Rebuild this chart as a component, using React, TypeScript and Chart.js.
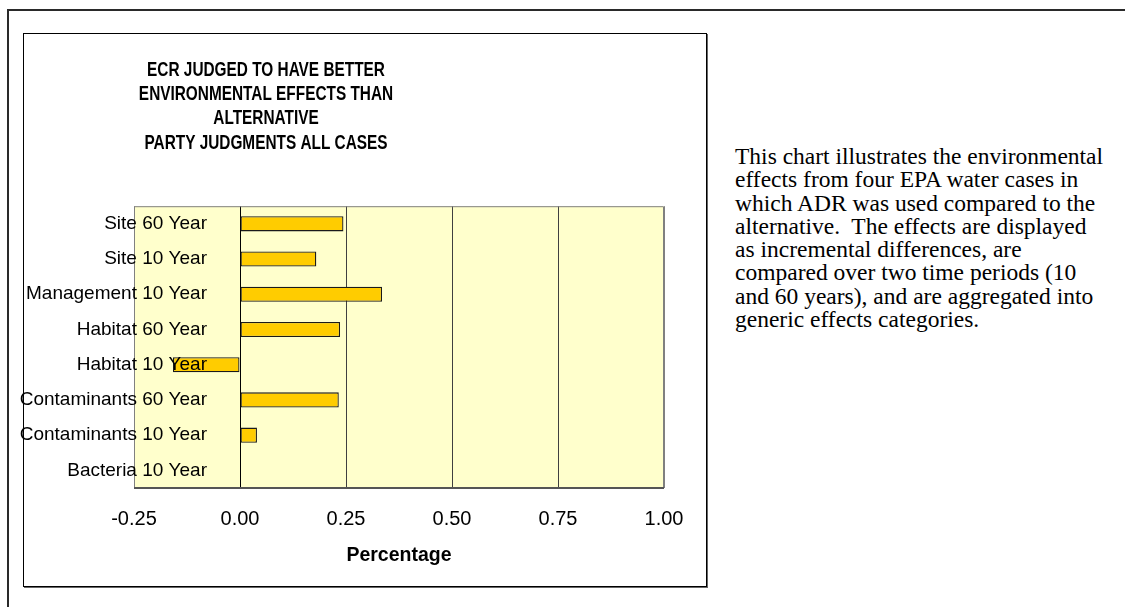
import React, { useEffect, useRef } from 'react';
import { Chart, registerables } from 'chart.js';

Chart.register(...registerables);

// Categories listed top-to-bottom as they appear in the chart
const categories = [
  'Site 60 Year',
  'Site 10 Year',
  'Management 10 Year',
  'Habitat 60 Year',
  'Habitat 10 Year',
  'Contaminants 60 Year',
  'Contaminants 10 Year',
  'Bacteria 10 Year',
];
const values = [0.244, 0.18, 0.335, 0.236, -0.158, 0.233, 0.04, 0];
const xMin = -0.25;
const xMax = 1.0;
const xStep = 0.25;
const titleLines = [
  'ECR JUDGED TO HAVE BETTER',
  'ENVIRONMENTAL EFFECTS THAN',
  'ALTERNATIVE',
  'PARTY JUDGMENTS ALL CASES',
];
const axisTitle = 'Percentage';
const noteLines = [
  'This chart illustrates the environmental',
  'effects from four EPA water cases in',
  'which ADR was used compared to the',
  'alternative.\u00a0 The effects are displayed',
  'as incremental differences, are',
  'compared over two time periods (10',
  'and 60 years), and are aggregated into',
  'generic effects categories.',
];

const SANS = "'Liberation Sans', Arial, sans-serif";
const LABEL_SIZE = 19;
const PAD_LEFT = 16; // canvas extends 16px left of the chart box
const LABEL_RIGHT = 199; // right edge of category labels, canvas px
const Y_AXIS_WIDTH = 110;
const TITLE_CENTER = 258;
const TITLE_SQUEEZE = 0.75;

function widestLabel(): number {
  const c = document.createElement('canvas');
  const ctx = c.getContext('2d');
  if (!ctx) return 160;
  ctx.font = `${LABEL_SIZE}px ${SANS}`;
  let w = 0;
  for (const l of categories) w = Math.max(w, ctx.measureText(l).width);
  return w;
}

const plotFrame = {
  id: 'plotFrame',
  beforeDraw(chart: any) {
    const { ctx, chartArea: a } = chart;
    ctx.save();
    ctx.fillStyle = '#FFFFCC';
    ctx.fillRect(a.left, a.top, a.right - a.left, a.bottom - a.top);
    ctx.restore();
  },
  afterDatasetsDraw(chart: any) {
    const { ctx, chartArea: a } = chart;
    ctx.save();
    ctx.strokeStyle = '#808080';
    ctx.lineWidth = 1;
    ctx.beginPath();
    ctx.moveTo(a.left + 0.5, a.bottom);
    ctx.lineTo(a.left + 0.5, a.top + 0.5);
    ctx.lineTo(a.right - 0.5, a.top + 0.5);
    ctx.lineTo(a.right - 0.5, a.bottom);
    ctx.stroke();
    ctx.strokeStyle = '#555555';
    ctx.lineWidth = 2;
    ctx.beginPath();
    ctx.moveTo(a.left, a.bottom);
    ctx.lineTo(a.right, a.bottom);
    ctx.stroke();
    ctx.restore();
  },
};

const titleShape = {
  id: 'titleShape',
  afterLayout(chart: any) {
    const tb = chart.titleBlock;
    if (!tb) return;
    const w = tb.right - tb.left;
    tb.left = TITLE_CENTER - w / 2;
    tb.right = TITLE_CENTER + w / 2;
    if (!tb.__narrow) {
      const orig = tb.draw.bind(tb);
      tb.draw = (area: any) => {
        const ctx = chart.ctx;
        ctx.save();
        ctx.translate(TITLE_CENTER, 0);
        ctx.scale(TITLE_SQUEEZE, 1);
        ctx.translate(-TITLE_CENTER, 0);
        orig(area);
        ctx.restore();
      };
      tb.__narrow = true;
    }
  },
};

function ChartBox() {
  const ref = useRef<HTMLCanvasElement | null>(null);
  useEffect(() => {
    if (!ref.current) return;
    const widest = widestLabel();
    const chart = new Chart(ref.current, {
      type: 'bar',
      data: {
        labels: categories,
        datasets: [
          {
            data: values,
            backgroundColor: '#FFCC00',
            borderColor: '#1a1a1a',
            borderWidth: 1.3,
            borderSkipped: false,
            categoryPercentage: 1,
            barPercentage: 0.43,
          },
        ],
      },
      options: {
        indexAxis: 'y',
        animation: false,
        responsive: false,
        devicePixelRatio: 1,
        layout: { padding: { left: PAD_LEFT, right: 42, top: 0, bottom: 0 } },
        plugins: {
          legend: { display: false },
          tooltip: { enabled: false },
          title: {
            display: true,
            text: titleLines,
            color: '#000',
            font: {
              family: SANS,
              size: 20.5,
              weight: 'bold',
              lineHeight: 24.3 / 20.5,
            },
            padding: { top: 24, bottom: 51 },
          },
        },
        scales: {
          x: {
            type: 'linear',
            position: 'bottom',
            min: xMin,
            max: xMax,
            border: { display: false },
            grid: {
              drawTicks: false,
              lineWidth: 1,
              color: (c: any) => {
                const v = c.tick ? c.tick.value : 0;
                if (Math.abs(v) < 1e-9) return '#000000';
                if (Math.abs(v - xMin) < 1e-9 || Math.abs(v - xMax) < 1e-9) return '#808080';
                return '#404040';
              },
            },
            ticks: {
              stepSize: xStep,
              autoSkip: false,
              color: '#000',
              padding: 19,
              font: { family: SANS, size: 20 },
              callback: (v: any) => Number(v).toFixed(2),
            },
            title: {
              display: true,
              text: axisTitle,
              color: '#000',
              font: { family: SANS, size: 19.5, weight: 'bold' },
              padding: { top: 0, bottom: 19 },
            },
            afterFit: (s: any) => {
              s.height = 98;
            },
          },
          y: {
            type: 'category',
            grid: { display: false, drawTicks: false },
            border: { display: false },
            ticks: {
              z: 1,
              color: '#000',
              mirror: true,
              crossAlign: 'far',
              padding: LABEL_RIGHT - (PAD_LEFT + Y_AXIS_WIDTH) - widest,
              autoSkip: false,
              font: { family: SANS, size: LABEL_SIZE },
            },
            afterFit: (s: any) => {
              s.width = Y_AXIS_WIDTH;
            },
          },
        },
      },
      plugins: [plotFrame, titleShape],
    } as any);
    return () => chart.destroy();
  }, []);
  return (
    <canvas
      ref={ref}
      width={698}
      height={552}
      style={{ display: 'block', position: 'absolute', left: 24 - PAD_LEFT, top: 34 }}
    />
  );
}

export default function App() {
  return (
    <div style={{ position: 'absolute', left: 0, top: 0, width: 1125, height: 607, overflow: 'hidden', background: '#fff' }}>
      <div
        style={{
          position: 'absolute',
          left: 7,
          top: 9,
          width: 1200,
          height: 700,
          borderLeft: '2px solid #2a2a2a',
          borderTop: '2px solid #2a2a2a',
        }}
      />
      <div
        style={{
          position: 'absolute',
          left: 23,
          top: 33,
          width: 682,
          height: 552,
          border: '1px solid #000',
          boxShadow: '1px 1px 0 #666',
          background: '#fff',
        }}
      />
      <ChartBox />
      <div
        style={{
          position: 'absolute',
          left: 735,
          top: 145,
          fontFamily: "'Liberation Serif', 'Times New Roman', serif",
          fontSize: 23.5,
          lineHeight: '23.3px',
          color: '#000',
          whiteSpace: 'nowrap',
        }}
      >
        {noteLines.map((l, i) => (
          <div key={i}>{l}</div>
        ))}
      </div>
    </div>
  );
}
